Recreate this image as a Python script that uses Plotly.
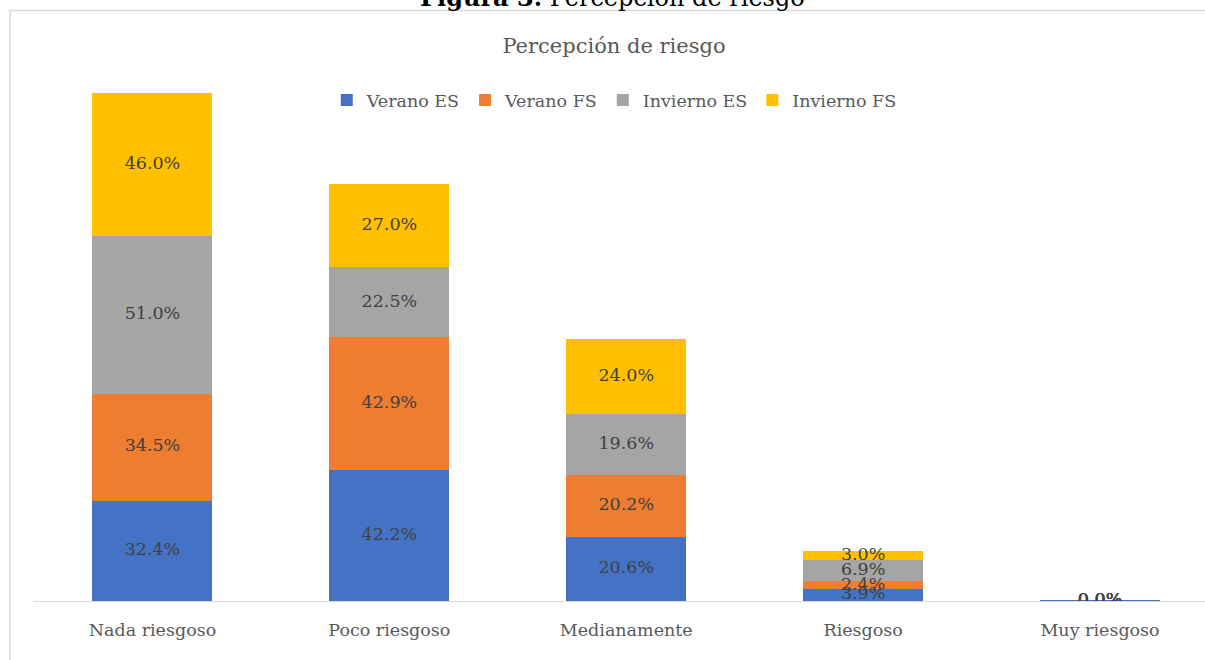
import plotly.graph_objects as go
import numpy as np

categories = ["Nada riesgoso", "Poco riesgoso", "Medianamente", "Riesgoso", "Muy riesgoso"]
series_names = ["Verano ES", "Verano FS", "Invierno ES", "Invierno FS"]
verano_es = [32.4, 42.2, 20.6, 3.9, 0.0]
verano_fs = [34.5, 42.9, 20.2, 2.4, 0.0]
invierno_es = [51.0, 22.5, 19.6, 6.9, 0.0]
invierno_fs = [46.0, 27.0, 24.0, 3.0, 0.0]
colors = ["#4472C4", "#ED7D31", "#A5A5A5", "#FFC000"]

series = [verano_es, verano_fs, invierno_es, invierno_fs]

W, H = 1205, 660
ML, MR, MT, MB = 33.5, 0, 60, 59
plot_w = W - ML - MR
plot_h = H - MT - MB
cat_px = 237.0
px_per_unit = 3.1

FONT = "DejaVu Serif"
x_idx = list(range(len(categories)))

fig = go.Figure()
for name, vals, col in zip(series_names, series, colors):
    lw = [2 if v == 0 and name == "Verano ES" else 0 for v in vals]
    fig.add_trace(go.Bar(
        x=x_idx, y=vals, name=name, width=120 / cat_px,
        marker=dict(color=col, line=dict(color=col, width=lw)),
        hoverinfo="skip",
    ))
base = np.zeros(len(categories))
for name, vals in zip(series_names, series):
    v = np.array(vals)
    mids = base + v / 2
    fig.add_trace(go.Scatter(
        x=x_idx, y=mids, mode="text", text=[f"{x:.1f}%" for x in vals],
        textposition="middle center", showlegend=False, hoverinfo="skip",
        textfont=dict(family=FONT, size=17.5, color="#404040"),
    ))
    base = base + v

def px_x(p):
    return (p - ML) / plot_w

def px_y(p):
    return (H - MB - p) / plot_h

fig.update_layout(
    width=W, height=H,
    margin=dict(l=ML, r=MR, t=MT, b=MB, pad=0),
    barmode="stack",
    paper_bgcolor="white", plot_bgcolor="white",
    font=dict(family=FONT, color="#595959"),
    title=dict(text="Percepción de riesgo", xref="container", x=614 / W, xanchor="center",
               yref="container", y=1 - 46 / H, yanchor="middle",
               font=dict(family=FONT, size=21, color="#595959")),
    legend=dict(orientation="h", x=px_x(614), xanchor="center", y=px_y(100), yanchor="middle",
                font=dict(family=FONT, size=17.5, color="#595959"),
                itemwidth=30, traceorder="normal"),
    xaxis=dict(range=[-0.5, -0.5 + plot_w / cat_px], tickvals=x_idx, ticktext=categories,
               showline=True, linecolor="#D9D9D9", linewidth=1.2, showgrid=False,
               zeroline=False, ticks="", ticklabelstandoff=13,
               tickfont=dict(family=FONT, size=17.5, color="#595959")),
    yaxis=dict(range=[0, plot_h / px_per_unit], visible=False),
    showlegend=True,
)

fig.add_shape(type="rect", xref="paper", yref="paper",
              x0=px_x(9.5), x1=px_x(W + 20), y0=px_y(H + 20), y1=px_y(10.5),
              line=dict(color="#D9D9D9", width=1.5), fillcolor="rgba(0,0,0,0)", layer="below")

fig.add_annotation(xref="paper", yref="paper", x=px_x(612), y=px_y(-3),
                   xanchor="center", yanchor="middle", showarrow=False,
                   text="<b>Figura 3.</b> Percepción de riesgo",
                   font=dict(family=FONT, size=24, color="#000000"))

fig.write_html("out.html", config={"displayModeBar": False},
               post_script="document.body.style.margin='0';document.body.style.overflow='hidden';")
